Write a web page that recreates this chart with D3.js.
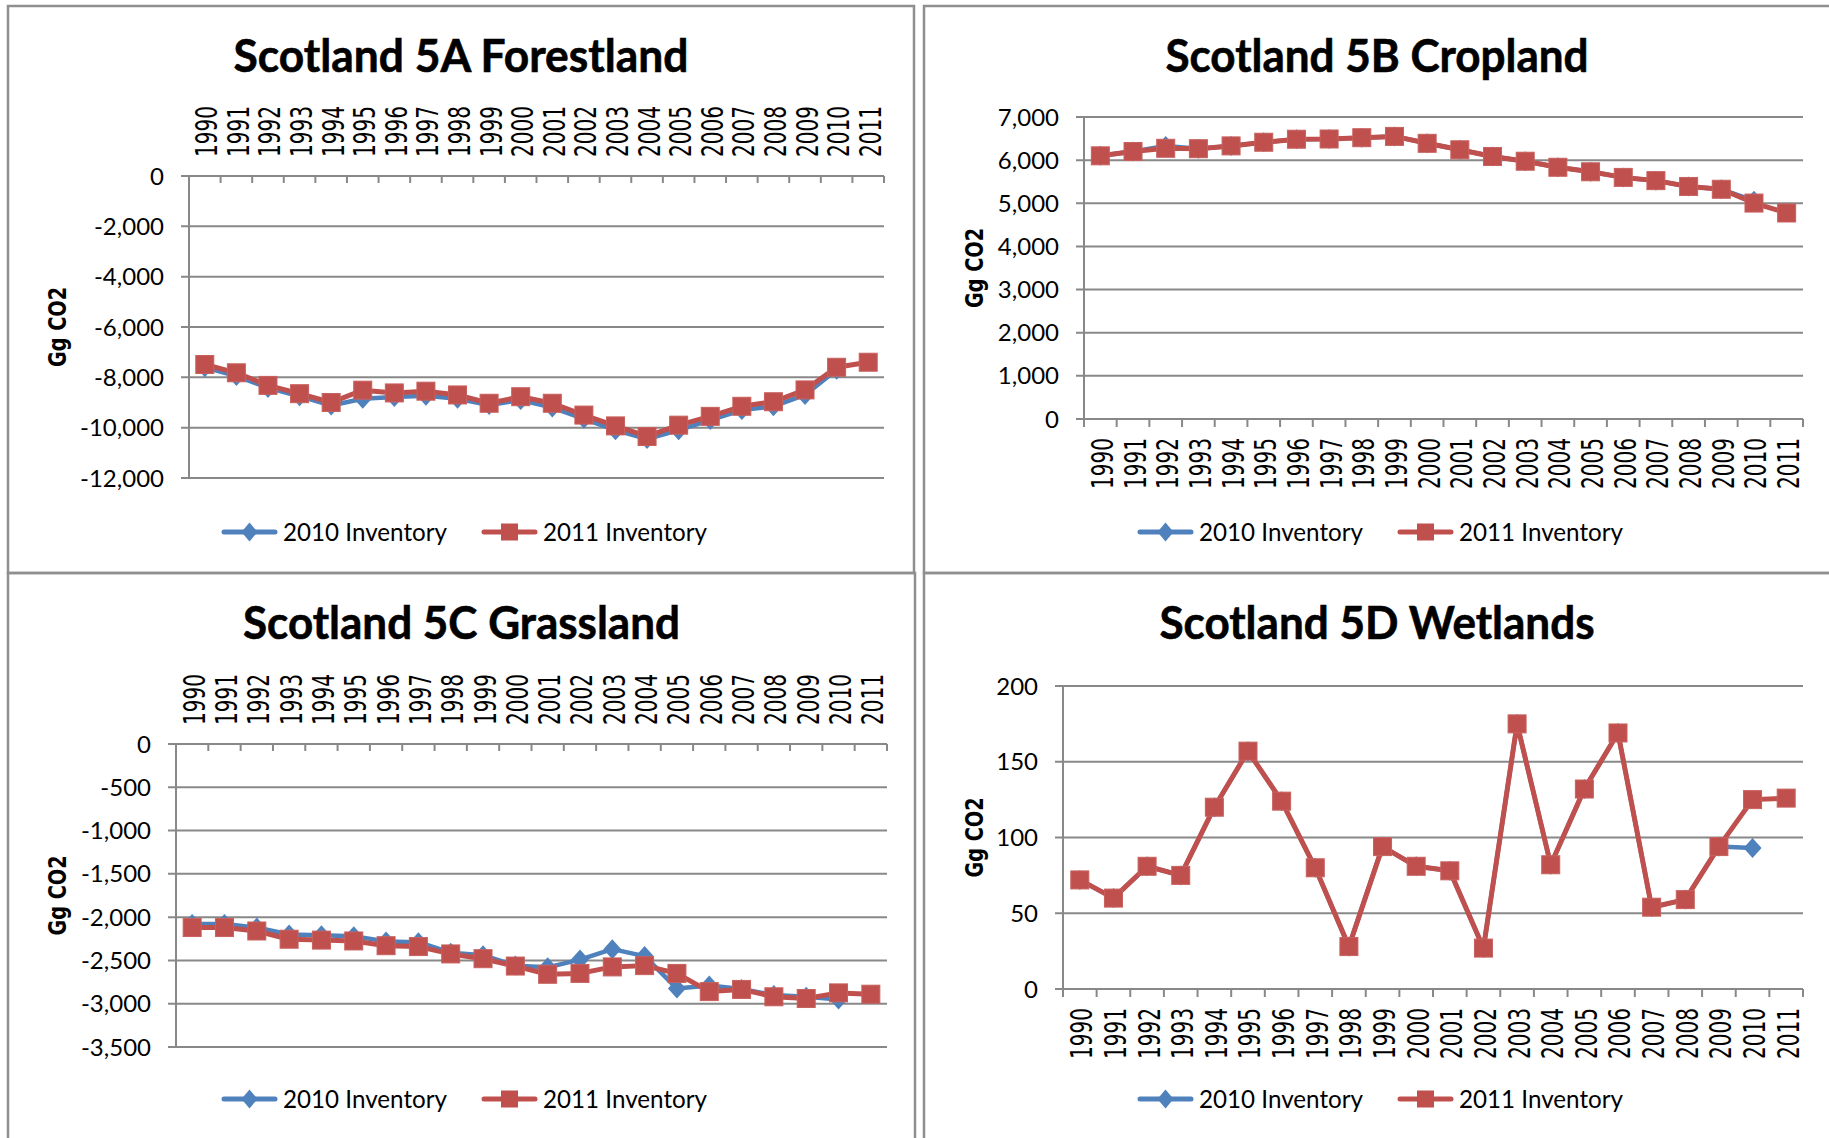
<!DOCTYPE html>
<html>
<head>
<meta charset="utf-8">
<script src="https://cdn.jsdelivr.net/npm/d3@7"></script>
<style>
	body { margin: 0; background: #fff; }
	svg { display: block; }
</style>
</head>
<body>
<script>
// ---------------------------- data -----------------------------------

var years = ['1990', '1991', '1992', '1993', '1994', '1995', '1996', '1997', '1998', '1999', '2000',
	'2001', '2002', '2003', '2004', '2005', '2006', '2007', '2008', '2009', '2010', '2011'];

var forest2010 = [-7600, -7950, -8420, -8750, -9120, -8850, -8780, -8730, -8850, -9100, -8900,
	-9200, -9650, -10100, -10450, -10100, -9700, -9300, -9150, -8700, -7700];
var forest2011 = [-7490, -7820, -8320, -8650, -9000, -8510, -8620, -8550, -8700, -9030, -8770,
	-9030, -9500, -9930, -10350, -9900, -9550, -9150, -8970, -8500, -7600, -7400];

var crop2010 = [6100, 6200, 6330, 6265, 6330, 6415, 6485, 6490, 6520, 6550, 6390,
	6240, 6085, 5975, 5835, 5730, 5600, 5525, 5390, 5325, 5060];
var crop2011 = [6100, 6200, 6275, 6265, 6330, 6415, 6485, 6490, 6520, 6550, 6390,
	6240, 6085, 5975, 5835, 5730, 5600, 5525, 5390, 5325, 5005, 4775];

var grass2010 = [-2080, -2080, -2120, -2200, -2210, -2220, -2280, -2290, -2410, -2440, -2560,
	-2580, -2490, -2370, -2450, -2825, -2790, -2830, -2900, -2920, -2950];
var grass2011 = [-2120, -2120, -2160, -2255, -2265, -2275, -2330, -2340, -2425, -2480, -2565,
	-2660, -2650, -2575, -2560, -2650, -2860, -2835, -2920, -2940, -2875, -2890];

var wet2010 = [72, 60, 81, 75, 120, 157, 124, 80, 28, 94, 81, 78, 27, 175, 82, 132, 169, 54, 59, 94, 93];
var wet2011 = [72, 60, 81, 75, 120, 157, 124, 80, 28, 94, 81, 78, 27, 175, 82, 132, 169, 54, 59, 94, 125, 126];

var forestTicks = [0, -2000, -4000, -6000, -8000, -10000, -12000];
var cropTicks = [0, 1000, 2000, 3000, 4000, 5000, 6000, 7000];
var grassTicks = [0, -500, -1000, -1500, -2000, -2500, -3000, -3500];
var wetTicks = [0, 50, 100, 150, 200];

var seriesNames = ['2010 Inventory', '2011 Inventory'];
var axisTitle = 'Gg CO2';

// ---------------------------- layout -----------------------------------

var panels = [
	{ title: 'Scotland 5A Forestland', frame: [8, 6, 906, 567], titleW: 455,
		plot: [189, 884, 176, 478], domain: [-12000, 0], ticks: forestTicks, labelsTop: true,
		a: forest2010, b: forest2011 },
	{ title: 'Scotland 5B Cropland', frame: [924, 6, 912, 567], titleW: 423,
		plot: [1084, 1803, 117, 419], domain: [0, 7000], ticks: cropTicks, labelsTop: false,
		a: crop2010, b: crop2011 },
	{ title: 'Scotland 5C Grassland', frame: [8, 573, 907, 600], titleW: 437,
		plot: [176, 887, 744, 1047], domain: [-3500, 0], ticks: grassTicks, labelsTop: true,
		a: grass2010, b: grass2011 },
	{ title: 'Scotland 5D Wetlands', frame: [924, 573, 912, 600], titleW: 435,
		plot: [1063, 1803, 686, 989], domain: [0, 200], ticks: wetTicks, labelsTop: false,
		a: wet2010, b: wet2011 }
];

var blue = '#4f81bd';
var red = '#c0504d';
var grid = '#888888';
var fmt = d3.formatLocale({ decimal: '.', thousands: ',', grouping: [3], currency: ['', ''], minus: '-' }).format(',');

var svg = d3.select('body').append('svg').attr('width', 1829).attr('height', 1138);
svg.append('rect').attr('width', 1829).attr('height', 1138).attr('fill', '#fff');

function diamond(w, h) {
	return 'M0,' + (-h / 2) + 'L' + (w / 2) + ',0L0,' + (h / 2) + 'L' + (-w / 2) + ',0Z';
}

function drawPanel(p) {
	var g = svg.append('g');
	var f = p.frame;
	g.append('rect').attr('x', f[0]).attr('y', f[1]).attr('width', f[2]).attr('height', f[3])
		.attr('fill', 'none').attr('stroke', '#8f8f8f').attr('stroke-width', 2.5);

	var cx = f[0] + f[2] / 2;
	if (f[0] > 900) cx = f[0] + 453;
	g.append('text').attr('x', cx).attr('y', f[1] + 66)
		.attr('text-anchor', 'middle').attr('font-family', 'Lato').attr('font-weight', 'bold')
		.attr('font-size', '45px').attr('textLength', p.titleW).attr('lengthAdjust', 'spacingAndGlyphs')
		.attr('stroke', '#000').attr('stroke-width', 0.6)
		.text(p.title);

	var x = d3.scaleBand().domain(years).range([p.plot[0], p.plot[1]]);
	var y = d3.scaleLinear().domain(p.domain).range([p.plot[3], p.plot[2]]);
	var x0 = p.plot[0], x1 = p.plot[1];
	var axisY = y(0);

	// gridlines + value ticks
	g.selectAll('.grid').data(p.ticks).enter().append('line')
		.attr('x1', x0 - 8).attr('x2', x1)
		.attr('y1', function(d) { return y(d); }).attr('y2', function(d) { return y(d); })
		.attr('stroke', grid).attr('stroke-width', 2);

	g.selectAll('.ylab').data(p.ticks).enter().append('text')
		.attr('x', x0 - 25).attr('y', function(d) { return y(d); }).attr('dy', '0.36em')
		.attr('text-anchor', 'end').attr('font-family', 'Lato').attr('font-size', '24px').attr('fill', '#000')
		.text(function(d) { return fmt(d); });

	// value axis line
	g.append('line').attr('x1', x0).attr('x2', x0)
		.attr('y1', p.plot[2]).attr('y2', p.plot[3] + (p.labelsTop ? 0 : 8))
		.attr('stroke', grid).attr('stroke-width', 2);

	// category ticks
	var dir = p.labelsTop ? 7 : 8;
	var edges = years.map(function(d) { return x(d); }).concat([x1]);
	g.selectAll('.xtick').data(edges).enter().append('line')
		.attr('x1', function(d) { return d; }).attr('x2', function(d) { return d; })
		.attr('y1', axisY).attr('y2', axisY + dir)
		.attr('stroke', grid).attr('stroke-width', 2);

	// category labels, rotated
	var bw = x.bandwidth();
	g.selectAll('.xlab').data(years).enter().append('text')
		.attr('transform', function(d) {
			var ly = p.labelsTop ? axisY - 19 : axisY + 19;
			return 'translate(' + (x(d) + bw / 2 + 1) + ',' + ly + ') rotate(-90)';
		})
		.attr('dy', '0.37em')
		.attr('text-anchor', p.labelsTop ? 'start' : 'end')
		.attr('font-family', "'DejaVu Sans', sans-serif")
		.attr('font-size', '31px').attr('textLength', 51).attr('lengthAdjust', 'spacingAndGlyphs')
		.text(function(d) { return d; });

	// axis title
	var ty = (p.plot[2] + p.plot[3]) / 2;
	var tx = f[0] < 900 ? f[0] + 58 : f[0] + 59;
	g.append('text').attr('transform', 'translate(' + tx + ',' + ty + ') rotate(-90)')
		.attr('text-anchor', 'middle').attr('font-family', 'DejaVu Sans').attr('font-weight', 'bold')
		.attr('font-size', '24px').attr('textLength', 80).attr('lengthAdjust', 'spacingAndGlyphs')
		.text(axisTitle);

	// series
	var line = d3.line()
		.x(function(d, i) { return x(years[i]) + bw / 2; })
		.y(function(d) { return y(d); });

	g.append('path').datum(p.a).attr('d', line).attr('fill', 'none')
		.attr('stroke', blue).attr('stroke-width', 4.5).attr('stroke-linejoin', 'round');
	g.selectAll('.dia').data(p.a).enter().append('path')
		.attr('transform', function(d, i) { return 'translate(' + (x(years[i]) + bw / 2) + ',' + y(d) + ')'; })
		.attr('d', diamond(18, 20)).attr('fill', blue);

	g.append('path').datum(p.b).attr('d', line).attr('fill', 'none')
		.attr('stroke', red).attr('stroke-width', 5).attr('stroke-linejoin', 'round');
	g.selectAll('.sq').data(p.b).enter().append('rect')
		.attr('x', function(d, i) { return x(years[i]) + bw / 2 - 9; })
		.attr('y', function(d) { return y(d) - 9; })
		.attr('width', 18).attr('height', 18)
		.attr('fill', red).attr('stroke', '#c8615e').attr('stroke-width', 1);

	// legend
	var ly = f[1] + 526;
	var lx = f[0];
	var items = [
		{ name: seriesNames[0], color: blue, x: lx + 216, marker: 'diamond' },
		{ name: seriesNames[1], color: red, x: lx + 476, marker: 'square' }
	];
	items.forEach(function(it) {
		g.append('line').attr('x1', it.x).attr('x2', it.x + 51).attr('y1', ly).attr('y2', ly)
			.attr('stroke', it.color).attr('stroke-width', 5).attr('stroke-linecap', 'round');
		if (it.marker === 'diamond') {
			g.append('path').attr('transform', 'translate(' + (it.x + 25.5) + ',' + ly + ')')
				.attr('d', diamond(16, 19)).attr('fill', it.color);
		} else {
			g.append('rect').attr('x', it.x + 25.5 - 8.5).attr('y', ly - 8.5).attr('width', 17).attr('height', 17)
				.attr('fill', it.color);
		}
		g.append('text').attr('x', it.x + 59).attr('y', ly + 9)
			.attr('font-family', 'Lato').attr('font-size', '25px')
			.attr('textLength', 164).attr('lengthAdjust', 'spacingAndGlyphs')
			.text(it.name);
	});
}

panels.forEach(drawPanel);
</script>
</body>
</html>
